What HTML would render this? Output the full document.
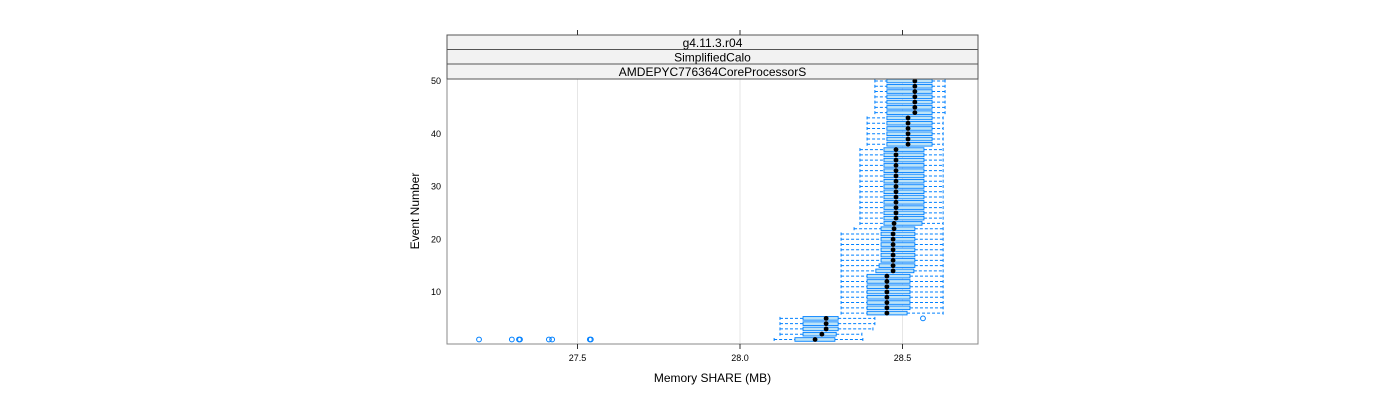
<!DOCTYPE html>
<html><head><meta charset="utf-8"><style>
html,body{margin:0;padding:0;background:#fff;}
svg{display:block;font-family:"Liberation Sans",sans-serif;}
</style></head><body>
<svg id="chart" width="1400" height="400" viewBox="0 0 1400 400" xmlns="http://www.w3.org/2000/svg">
<g id="grid"></g>
<g id="boxes"></g>
<rect x="447" y="79" width="531" height="265" fill="none" stroke="#888" stroke-width="1"/>
<g>
<rect x="447" y="35" width="531" height="14.5" fill="#f2f2f2" stroke="#555"/>
<rect x="447" y="49.5" width="531" height="14.5" fill="#f2f2f2" stroke="#555"/>
<rect x="447" y="64" width="531" height="15" fill="#f2f2f2" stroke="#555"/>
<text x="712.5" y="47" font-size="12" text-anchor="middle">g4.11.3.r04</text>
<text x="712.5" y="61.5" font-size="12" text-anchor="middle">SimplifiedCalo</text>
<text x="712.5" y="76" font-size="12" text-anchor="middle">AMDEPYC776364CoreProcessorS</text>
</g>
<g id="axes"></g>
<text x="712.5" y="382" font-size="12" text-anchor="middle">Memory SHARE (MB)</text>
<text x="419" y="211" font-size="12" text-anchor="middle" transform="rotate(-90 419 211)">Event Number</text>
</svg>
<script>
const xTicks = [27.5, 28.0, 28.5];
const xTickLabels = ["27.5", "28.0", "28.5"];
const yTicks = [10, 20, 30, 40, 50];
// per event 1..50
const wlo = [28.105,28.123,28.123,28.123,28.123,28.311,28.311,28.311,28.311,28.311,28.311,28.311,28.311,28.311,28.311,28.311,28.311,28.311,28.311,28.311,28.311,28.351,28.369,28.369,28.369,28.369,28.369,28.369,28.369,28.369,28.369,28.369,28.369,28.369,28.369,28.369,28.369,28.391,28.391,28.391,28.391,28.391,28.391,28.415,28.415,28.415,28.415,28.415,28.415,28.415];
const q1 = [28.169,28.194,28.194,28.194,28.194,28.391,28.391,28.391,28.391,28.391,28.391,28.391,28.391,28.418,28.428,28.434,28.434,28.434,28.434,28.434,28.434,28.434,28.443,28.443,28.443,28.443,28.443,28.443,28.443,28.443,28.443,28.443,28.443,28.443,28.443,28.443,28.443,28.452,28.452,28.452,28.452,28.452,28.452,28.452,28.452,28.452,28.452,28.452,28.452,28.452];
const med = [28.231,28.252,28.265,28.265,28.265,28.452,28.452,28.452,28.452,28.452,28.452,28.452,28.452,28.471,28.471,28.471,28.471,28.471,28.471,28.471,28.471,28.474,28.474,28.48,28.48,28.48,28.48,28.48,28.48,28.48,28.48,28.48,28.48,28.48,28.48,28.48,28.48,28.517,28.517,28.517,28.517,28.517,28.517,28.538,28.538,28.538,28.538,28.538,28.538,28.538];
const q3 = [28.292,28.296,28.302,28.302,28.302,28.514,28.523,28.523,28.523,28.523,28.523,28.523,28.523,28.535,28.538,28.538,28.538,28.538,28.538,28.538,28.538,28.538,28.56,28.566,28.566,28.566,28.566,28.566,28.566,28.566,28.566,28.566,28.566,28.566,28.566,28.566,28.566,28.591,28.591,28.591,28.591,28.591,28.591,28.591,28.591,28.591,28.591,28.591,28.591,28.591];
const whi = [28.378,28.375,28.409,28.415,28.415,28.625,28.625,28.625,28.625,28.625,28.625,28.625,28.625,28.625,28.625,28.625,28.625,28.625,28.625,28.625,28.625,28.625,28.625,28.625,28.625,28.625,28.625,28.625,28.625,28.625,28.625,28.625,28.625,28.625,28.625,28.625,28.625,28.625,28.625,28.625,28.625,28.625,28.625,28.631,28.631,28.631,28.631,28.631,28.631,28.631];
const outEvents = [1,1,1,1,1,1,1,1,5];
const outValues = [27.197,27.298,27.32,27.323,27.412,27.422,27.538,27.541,28.563];

const NS = "http://www.w3.org/2000/svg";
const X = v => 740 + (v - 28.0) * 325;
const Y = e => 292 - (e - 10) * 5.275;
function mk(parent, tag, attrs){const el=document.createElementNS(NS,tag);for(const k in attrs)el.setAttribute(k,attrs[k]);parent.appendChild(el);return el;}
const grid=document.getElementById('grid'), axes=document.getElementById('axes'), boxes=document.getElementById('boxes');
xTicks.forEach((t,i)=>{
  const gl=mk(grid,'line',{x1:X(t),x2:X(t),y1:79,y2:344,stroke:'#e6e6e6'});
  
  
  const tb=mk(axes,'line',{x1:X(t),x2:X(t),y1:344,y2:349,stroke:'#333'});
  
  
  const tt=mk(axes,'line',{x1:X(t),x2:X(t),y1:30,y2:35,stroke:'#333'});
  
  
  const lb=mk(axes,'text',{x:X(t),y:361,'font-size':9,'text-anchor':'middle'});
  lb.textContent=xTickLabels[i];
  
  
});
yTicks.forEach(t=>{
  const lb=mk(axes,'text',{x:441,y:Y(t)+3,'font-size':9,'text-anchor':'end'});
  lb.textContent=String(t);
  
  
});
const col='#0080ff';
for(let i=0;i<50;i++){
  const e=i+1, y=Y(e), h=3.6;
  const g=mk(boxes,'g',{});
  
  
  mk(g,'line',{x1:X(wlo[i]),x2:X(q1[i]),y1:y,y2:y,stroke:col,'stroke-dasharray':'3,2','stroke-width':1});
  mk(g,'line',{x1:X(q3[i]),x2:X(whi[i]),y1:y,y2:y,stroke:col,'stroke-dasharray':'3,2','stroke-width':1});
  mk(g,'line',{x1:X(wlo[i]),x2:X(wlo[i]),y1:y-1.5,y2:y+1.5,stroke:col});
  mk(g,'line',{x1:X(whi[i]),x2:X(whi[i]),y1:y-1.5,y2:y+1.5,stroke:col});
  mk(g,'rect',{x:X(q1[i]),y:y-h/2,width:X(q3[i])-X(q1[i]),height:h,fill:'#bde3f7',stroke:col,'stroke-width':0.9});
  mk(g,'circle',{cx:X(med[i]),cy:y,r:2.4,fill:'#000'});
}
outValues.forEach((v,i)=>{
  const c=mk(boxes,'circle',{cx:X(v),cy:Y(outEvents[i]),r:2.4,fill:'none',stroke:col,'stroke-width':1});
  
  
});
</script>
</body></html>
